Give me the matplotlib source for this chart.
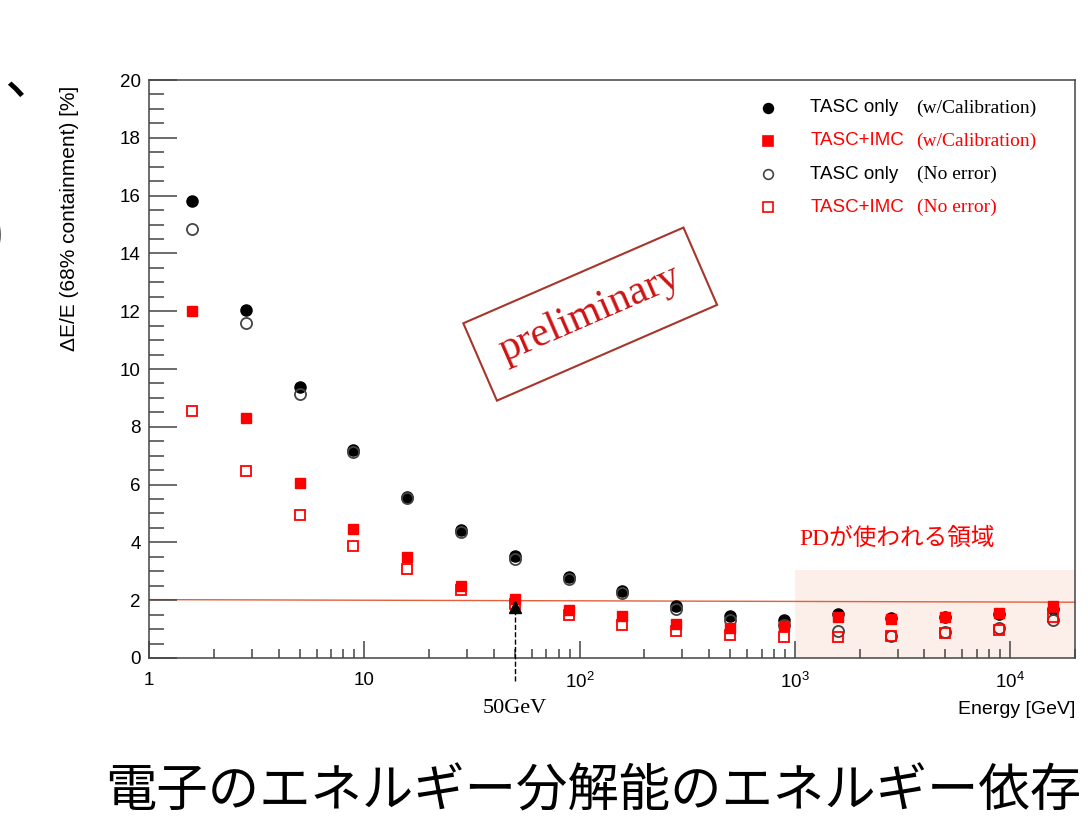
import matplotlib
matplotlib.use('Agg')
import matplotlib.pyplot as plt
from matplotlib.ticker import FixedLocator, FixedFormatter, LogLocator, MultipleLocator, NullFormatter

# ── データ ────────────────────────────────────────────────────────────────
energy = [1.58, 2.81, 5.0, 8.89, 15.8, 28.1, 50.0, 88.9, 158, 281, 500, 889,
          1580, 2810, 5000, 8890, 15800]
tasc_cal = [15.8, 12.05, 9.38, 7.2, 5.57, 4.43, 3.53, 2.8, 2.32, 1.8, 1.45, 1.31,
            1.52, 1.4, 1.42, 1.52, 1.68]
imc_cal = [12.0, 8.3, 6.06, 4.46, 3.5, 2.5, 2.04, 1.66, 1.45, 1.18, 1.04, 1.1,
           1.42, 1.35, 1.42, 1.56, 1.8]
tasc_noerr = [14.85, 11.6, 9.15, 7.12, 5.53, 4.36, 3.43, 2.73, 2.25, 1.7, 1.31, 1.14,
              0.93, 0.76, 0.9, 1.04, 1.33]
imc_noerr = [8.55, 6.47, 4.95, 3.88, 3.08, 2.35, 1.87, 1.49, 1.14, 0.93, 0.8, 0.73,
             0.73, 0.76, 0.87, 0.97, 1.42]

xtick_vals = [1, 10, 100, 1000, 10000]
xtick_labels = ['1', '10', '$10^{2}$', '$10^{3}$', '$10^{4}$']

# ── 色 ──────────────────────────────────────────────────────────────────
C_RED = '#ff0000'
C_LINE = '#e2603c'
C_SHADE = '#fcefea'
C_AXIS = '#444444'
SERIF_JP = ['Liberation Serif', 'Noto Sans CJK JP']

plt.rcParams['font.family'] = ['Liberation Sans', 'Noto Sans CJK JP']
plt.rcParams['mathtext.default'] = 'regular'

fig = plt.figure(figsize=(10.88, 8.19), dpi=100)
ax = fig.add_axes([0.137, 0.1966, 0.851, 0.7057])

ax.set_xscale('log')
ax.set_xlim(1, 2e4)
ax.set_ylim(0, 20)

# PD 領域
ax.fill_between([1000, 2e4], 0, 3.05, color=C_SHADE, lw=0, zorder=0)
ax.text(1050, 3.75, 'PDが使われる領域', color=C_RED, fontsize=17,
        family=SERIF_JP, va='bottom')

# 2% line
ax.plot([1, 2e4], [2.02, 1.93], color=C_LINE, lw=1, zorder=1)

ms = 8
ax.plot(energy, tasc_cal, 'o', color='black', ms=ms, zorder=3)
ax.plot(energy, tasc_noerr, 'o', mfc='none', mec='#444444', mew=1.3, ms=ms, zorder=4)
ax.plot(energy, imc_cal, 's', color=C_RED, ms=ms - 0.5, zorder=5)
ax.plot(energy, imc_noerr, 's', mfc='none', mec=C_RED, mew=1.3, ms=ms - 0.5, zorder=5)

# 50 GeV arrow
ax.plot([50, 50], [-0.8, 1.75], ls='--', color='black', lw=1, clip_on=False, zorder=6)
ax.plot([50], [1.75], marker='^', color='black', ms=8, clip_on=False, zorder=6)
ax.text(50, -1.75, '50GeV', family='Liberation Serif', fontsize=16,
        ha='center', va='center')

# preliminary
ax.text(112, 11.9, 'preliminary', family='Liberation Serif', fontsize=30,
        color='#cc1515', rotation=23.5, ha='center', va='center',
        rotation_mode='anchor',
        bbox=dict(boxstyle='square,pad=0.55', fc='white', ec='#a8352c', lw=1.5))

# legend (hand placed)
rows = [
    ('o', 'black', 'black', 'TASC only', '(w/Calibration)', 'black'),
    ('s', C_RED, C_RED, 'TASC+IMC', '(w/Calibration)', C_RED),
    ('o', 'none', '#444444', 'TASC only', '(No error)', 'black'),
    ('s', 'none', C_RED, 'TASC+IMC', '(No error)', C_RED),
]
ys = [0.9516, 0.8945, 0.837, 0.780]
for (mk, fc, ec, name, note, tc), yy in zip(rows, ys):
    ax.plot([0.668], [yy], marker=mk, mfc=fc, mec=ec, mew=1.2, ms=7,
            transform=ax.transAxes, clip_on=False)
    ax.text(0.714, yy, name, color=tc, fontsize=13.5, transform=ax.transAxes, va='center')
    ax.text(0.829, yy, note, color=tc, fontsize=14, family='Liberation Serif',
            transform=ax.transAxes, va='center')

# axes style
ax.xaxis.set_major_locator(FixedLocator(xtick_vals))
ax.xaxis.set_major_formatter(FixedFormatter(xtick_labels))
ax.xaxis.set_minor_locator(LogLocator(base=10, subs=range(2, 10), numticks=20))
ax.xaxis.set_minor_formatter(NullFormatter())
ax.yaxis.set_major_locator(MultipleLocator(2))
ax.yaxis.set_minor_locator(MultipleLocator(0.5))

ax.tick_params(axis='both', which='both', direction='in', colors=C_AXIS,
               labelcolor='black', labelsize=13.5, width=1.1)
ax.tick_params(axis='x', which='both', top=False, pad=10)
ax.tick_params(axis='y', which='both', right=False, pad=6)
ax.tick_params(axis='x', which='major', length=12)
ax.tick_params(axis='x', which='minor', length=6.5)
ax.tick_params(axis='y', which='major', length=20)
ax.tick_params(axis='y', which='minor', length=10.5)
for sp in ax.spines.values():
    sp.set_color(C_AXIS)
    sp.set_linewidth(1.1)

ax.set_ylabel('ΔE/E (68% containment) [%]', fontsize=15, loc='top')
ax.yaxis.set_label_coords(-0.076, 0.99)
ax.set_xlabel('Energy [GeV]', fontsize=14, loc='right')
ax.xaxis.set_label_coords(1.0, -0.075)

# slide fragments
fig.text(0.004, 0.905, '、', fontsize=40, family='Noto Sans CJK JP', va='center')
fig.text(-0.012, 0.712, ')', fontsize=40, family='Noto Sans CJK JP', va='center')
fig.text(0.097, 0.033, '電子のエネルギー分解能のエネルギー依存', fontsize=37,
         family='Noto Sans CJK JP', va='center')

fig.savefig('out.png', dpi=100, facecolor='white')
